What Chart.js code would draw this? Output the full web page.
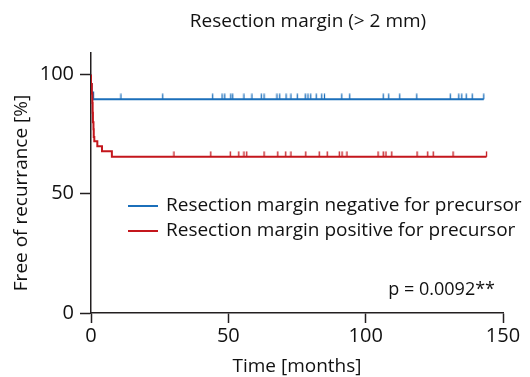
<!DOCTYPE html>
<html>
<head>
<meta charset="utf-8">
<script src="https://cdn.jsdelivr.net/npm/chart.js@4.4.1/dist/chart.umd.min.js"></script>
<style>
  html, body { margin: 0; padding: 0; background: #fff; }
  #wrap { width: 530px; height: 377px; position: relative; }
</style>
</head>
<body>
<div id="wrap"><canvas id="c" width="530" height="377"></canvas></div>
<script>
// ---- data ----
const chartTitle = "Resection margin (> 2 mm)";
const xTitle = "Time [months]";
const yTitle = "Free of recurrance [%]";
const seriesNames = ["Resection margin negative for precursor", "Resection margin positive for precursor"];
const pValueText = "p = 0.0092**";
const xTicks = [0, 50, 100, 150];
const yTicks = [0, 50, 100];

// Kaplan-Meier steps: time (months) and survival (%) after each event; last entry is end of follow-up
const negTimes = [0, 0.2, 0.8, 1.8, 143.0];
const negSurv  = [100, 96, 92.4, 89.6, 89.6];
const posTimes = [0, 0.3, 0.5, 0.6, 0.7, 0.9, 1.0, 1.2, 2.3, 4.0, 7.6, 9.4, 144.0];
const posSurv  = [100, 96, 92, 88, 84, 80, 77, 73.8, 72.0, 69.9, 67.8, 65.5, 65.5];

// censored observations (months)
const negCensored = [10.9, 26.1, 44.3, 47.7, 48.7, 50.9, 51.6, 55.7, 58.6, 62.0, 63.0, 67.7, 68.7, 71.0, 72.8, 75.1, 78.0, 79.0, 80.0, 82.0, 84.0, 85.0, 91.3, 94.2, 106.4, 108.4, 112.4, 118.6, 130.8, 133.9, 135.0, 136.6, 138.8, 143.0];
const posCensored = [30.2, 43.6, 50.7, 53.8, 55.7, 56.7, 63.0, 68.0, 70.9, 72.8, 78.2, 83.1, 86.0, 90.4, 91.4, 93.2, 104.5, 106.4, 107.4, 109.5, 118.7, 122.6, 124.6, 131.8, 144.0];

const BLUE = "#1b6fba";
const RED = "#c4161c";
const AXIS = "#231f20";
const FONT = "'Open Sans', 'DejaVu Sans', sans-serif";
const TXT = 19;

function survAt(times, surv, t) {
  let s = surv[0];
  for (let i = 0; i < times.length; i++) { if (times[i] <= t) s = surv[i]; }
  return s;
}
function stepPoints(times, surv) { return times.map((t, i) => ({ x: t, y: surv[i] })); }
function censorPoints(times, surv, cens) { return cens.map(t => ({ x: t, y: survAt(times, surv, t) })); }

function tickMark(color) {
  const cv = document.createElement('canvas');
  cv.width = 3; cv.height = 12;
  const g = cv.getContext('2d');
  g.strokeStyle = color; g.lineWidth = 1.3;
  g.beginPath(); g.moveTo(1.5, 0.5); g.lineTo(1.5, 6); g.stroke();
  return cv;
}

const overlay = {
  id: 'overlay',
  afterDraw(chart) {
    const ctx = chart.ctx;
    ctx.save();
    ctx.fillStyle = '#111';
    // chart title
    ctx.font = TXT + "px " + FONT;
    ctx.textAlign = 'center';
    ctx.textBaseline = 'middle';
    ctx.fillText(chartTitle, 308, 22);
    // y-axis title
    ctx.translate(22, 193);
    ctx.rotate(-Math.PI / 2);
    ctx.fillText(yTitle, 0, 0);
    ctx.restore();

    ctx.save();
    // legend
    const items = [[BLUE, 206], [RED, 231]];
    items.forEach(([col, y], i) => {
      ctx.strokeStyle = col; ctx.lineWidth = 2;
      ctx.beginPath(); ctx.moveTo(128, y); ctx.lineTo(158, y); ctx.stroke();
      ctx.fillStyle = '#111';
      ctx.font = TXT + "px " + FONT;
      ctx.textAlign = 'left'; ctx.textBaseline = 'middle';
      ctx.fillText(seriesNames[i], 166, y);
    });
    // p value
    ctx.font = "18px " + FONT;
    ctx.textAlign = 'right';
    ctx.fillText(pValueText, 495, 290);
    ctx.restore();
  }
};

new Chart(document.getElementById('c'), {
  type: 'scatter',
  data: {
    datasets: [
      { label: seriesNames[0], data: stepPoints(negTimes, negSurv), showLine: true, stepped: 'after',
        borderColor: BLUE, borderWidth: 2, pointRadius: 0, order: 2 },
      { label: seriesNames[1], data: stepPoints(posTimes, posSurv), showLine: true, stepped: 'after',
        borderColor: RED, borderWidth: 2, pointRadius: 0, order: 1 },
      { label: 'neg censored', data: censorPoints(negTimes, negSurv, negCensored), showLine: false,
        pointStyle: tickMark(BLUE), pointRadius: 4, order: 0 },
      { label: 'pos censored', data: censorPoints(posTimes, posSurv, posCensored), showLine: false,
        pointStyle: tickMark(RED), pointRadius: 4, order: 0 }
    ]
  },
  options: {
    responsive: false,
    animation: false,
    layout: { padding: { left: 0, right: 27, top: 53, bottom: 0 } },
    plugins: {
      legend: { display: false },
      tooltip: { enabled: false },
      title: { display: false }
    },
    scales: {
      x: {
        type: 'linear', min: 0, max: 150,
        afterBuildTicks: s => { s.ticks = xTicks.map(v => ({ value: v })); },
        afterFit: s => { s.height = 64; },
        border: { display: true, color: AXIS, width: 1.5 },
        grid: { drawOnChartArea: false, drawTicks: true, tickLength: 10, tickColor: AXIS, tickWidth: 1.5 },
        ticks: { color: '#111', font: { family: FONT, size: 20 }, padding: 1, maxRotation: 0 },
        title: { display: true, text: xTitle, color: '#111', font: { family: FONT, size: TXT }, padding: { top: 0, bottom: -1 } }
      },
      y: {
        type: 'linear', min: 0, max: 109,
        afterBuildTicks: s => { s.ticks = yTicks.map(v => ({ value: v })); },
        afterFit: s => { s.width = 91; },
        border: { display: true, color: AXIS, width: 1.5 },
        grid: { drawOnChartArea: false, drawTicks: true, tickLength: 11, tickColor: AXIS, tickWidth: 1.5 },
        ticks: { color: '#111', font: { family: FONT, size: 20 }, padding: 6 }
      }
    }
  },
  plugins: [overlay]
});
</script>
</body>
</html>
